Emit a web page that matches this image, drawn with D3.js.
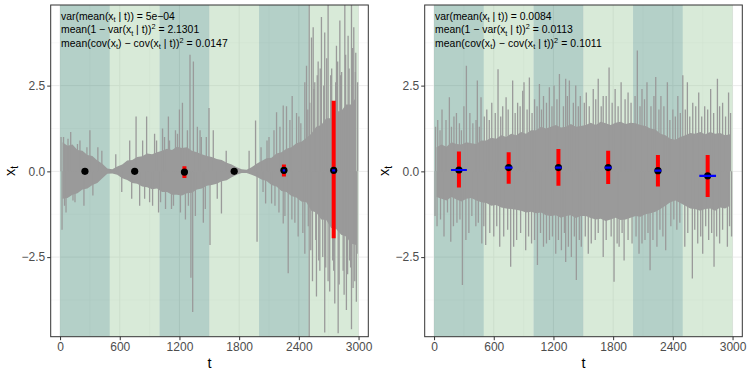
<!DOCTYPE html>
<html>
<head>
<meta charset="utf-8">
<script src="https://cdn.jsdelivr.net/npm/d3@7"></script>
<style>
  body { margin: 0; background: #fff; }
  svg { display: block; font-family: "Liberation Sans", Arial, Helvetica, sans-serif; }
</style>
</head>
<body>
<svg id="chart" width="747" height="374"></svg>
<script>
// segments (shaded bands) and their centres
var segStarts = [0, 500, 1000, 1500, 2000, 2500];
var segEnds = [500, 1000, 1500, 2000, 2500, 3000];
var segCenters = [250, 750, 1250, 1750, 2250, 2750];
var xTicks = [0, 600, 1200, 1800, 2400, 3000];
var yTicks = [-2.5, 0, 2.5];

// grey series, read as an envelope per 50-step bin
var binCenters = d3.range(25, 3000, 50);
var leftHi = [0.85,0.75,0.78,0.62,0.6,0.48,0.45,0.32,0.22,0.08,
  0.06,0.14,0.2,0.32,0.33,0.42,0.44,0.52,0.5,0.56,
  0.6,0.66,0.62,0.72,0.68,0.7,0.6,0.56,0.5,0.45,
  0.42,0.36,0.33,0.25,0.2,0.12,0.06,0.05,0.12,0.22,
  0.3,0.38,0.4,0.52,0.56,0.66,0.7,0.82,0.86,0.97,
  1.1,1.3,1.35,1.55,1.55,1.75,1.75,1.95,1.95,2.15];
var leftLo = [-0.8,-0.78,-0.68,-0.64,-0.53,-0.5,-0.4,-0.34,-0.2,-0.07,
  -0.06,-0.1,-0.2,-0.25,-0.34,-0.36,-0.44,-0.46,-0.52,-0.5,
  -0.6,-0.6,-0.68,-0.68,-0.7,-0.64,-0.62,-0.53,-0.5,-0.42,
  -0.4,-0.36,-0.29,-0.26,-0.17,-0.1,-0.05,-0.05,-0.1,-0.16,
  -0.24,-0.28,-0.4,-0.44,-0.57,-0.6,-0.72,-0.76,-0.88,-0.9,
  -1.15,-1.2,-1.4,-1.42,-1.65,-1.68,-1.85,-1.9,-2.1,-2.15];
var rightHi = [0.7,0.78,0.72,0.85,0.8,0.78,0.85,0.82,0.8,0.9,
  0.9,0.98,0.95,1.05,1.0,1.1,1.05,1.15,1.1,1.2,
  1.2,1.3,1.25,1.3,1.35,1.28,1.3,1.38,1.3,1.32,
  1.35,1.42,1.35,1.45,1.4,1.35,1.42,1.45,1.38,1.42,
  1.4,1.35,1.32,1.25,1.22,1.1,1.05,0.95,0.92,1.0,
  1.05,1.12,1.1,1.15,1.08,1.15,1.1,1.12,1.05,1.08];
var rightLo = [-0.75,-0.8,-0.85,-0.75,-0.82,-0.88,-0.8,-0.78,-0.85,-0.9,
  -0.92,-1.0,-0.98,-1.05,-1.08,-1.1,-1.12,-1.15,-1.2,-1.18,
  -1.22,-1.2,-1.28,-1.3,-1.28,-1.35,-1.3,-1.28,-1.36,-1.3,
  -1.3,-1.36,-1.4,-1.38,-1.45,-1.4,-1.35,-1.42,-1.4,-1.35,
  -1.3,-1.32,-1.25,-1.22,-1.18,-1.1,-1.0,-0.9,-0.85,-0.92,
  -1.0,-1.08,-1.1,-1.15,-1.1,-1.08,-1.15,-1.05,-1.08,-1.0];

// single excursions of the grey series [t, value]
var leftSpikes = [[10,1.0],[20,-1.7],[35,1.0],[45,-1.0],[60,-1.2],[80,0.95],[107,1.15],[130,-0.85],[150,-0.9],[175,0.8],[200,0.9],[240,-1.0],[270,0.7],[300,1.2],[330,-0.7],[380,0.7],[420,0.6],
  [560,0.5],[620,-0.6],[700,0.9],[720,-0.8],[764,1.6],[800,-1.0],[830,0.9],[850,-0.8],[870,1.6],[900,-0.9],[930,-1.0],[950,1.1],[970,0.9],[990,-1.2],
  [1010,-0.9],[1030,1.25],[1050,1.0],[1060,-1.1],[1089,1.6],[1100,0.9],[1120,-1.1],[1140,-1.0],[1160,1.2],[1180,1.1],[1200,1.8],[1210,-1.2],[1230,2.0],[1260,-1.4],[1280,1.2],[1290,-1.0],[1306,3.4],[1315,-3.1],[1333,-4.1],[1340,3.2],[1360,-1.3],[1380,1.3],[1407,1.2],[1420,1.0],[1440,-1.5],[1460,-1.1],[1470,1.0],[1497,1.85],[1507,-2.15],
  [1540,1.2],[1580,-0.8],[1622,-1.23],[1670,0.6],[1900,0.6],[1965,1.48],[1980,-2.05],
  [2020,0.7],[2040,-0.6],[2066,-0.94],[2080,0.9],[2100,1.0],[2126,-0.94],[2150,1.2],[2160,-1.0],[2176,1.72],[2200,-1.2],[2210,1.3],[2243,1.92],[2243,-1.52],[2260,-1.3],[2276,1.9],[2293,-2.97],[2310,1.5],[2330,-1.4],[2333,2.2],[2360,-1.5],[2377,1.7],[2393,-1.9],[2400,1.6],[2420,1.4],[2440,-1.8],[2460,2.6],[2460,-2.4],[2477,3.08],[2490,1.8],[2495,-1.6],
  [2504,5.2],[2504,-5.2],[2510,2.0],[2520,-2.3],[2527,3.9],[2537,-3.2],[2544,4.2],[2550,2.4],[2560,2.6],[2570,-2.0],[2577,-3.65],[2585,2.8],[2594,3.2],[2600,-2.6],[2611,-2.9],[2615,3.0],[2627,4.5],[2640,-2.5],[2650,2.5],[2660,4.05],[2660,-4.7],[2670,-2.8],[2680,3.3],[2694,5.2],[2694,-3.2],[2710,-3.5],[2720,2.8],[2730,3.0],[2740,-2.6],[2750,-2.9],[2761,-3.85],[2770,2.6],[2778,3.66],[2790,3.2],[2795,-4.72],[2805,-3.3],[2812,4.4],[2820,2.8],[2830,2.9],[2845,-2.9],[2855,-3.6],[2862,5.2],[2870,3.4],[2878,-4.04],[2890,-3.0],[2895,3.95],[2905,3.0],[2910,-2.6],[2920,-2.8],[2929,5.2],[2929,-4.6],[2940,3.6],[2945,-3.4],[2952,4.2],[2962,-3.2],[2968,2.9],[2972,3.46],[2978,-3.8],[2985,-2.4],[2990,2.6]];
var rightSpikes = [[15,1.3],[37,1.5],[60,1.2],[80,1.8],[120,1.5],[154,2.16],[175,1.3],[200,1.6],[225,1.7],[255,1.4],[275,1.2],[300,1.9],[325,3.08],[360,1.7],[390,1.4],[422,1.5],[435,2.65],[455,1.3],[472,2.16],[505,1.6],[530,1.8],[555,1.5],[580,2.0],[615,1.7],[643,2.98],[670,1.6],[690,1.9],[724,2.16],[745,1.8],[790,2.65],[815,1.7],[840,2.0],[865,1.9],[891,2.35],[904,2.6],[935,1.8],[958,2.74],[985,1.7],[1010,2.1],[1035,1.9],[1059,2.55],[1080,1.8],[1100,2.2],[1130,2.0],[1159,2.45],[1185,1.9],[1206,2.5],[1235,2.1],[1260,2.84],[1300,1.9],[1323,2.7],[1340,2.2],[1360,2.65],[1400,2.0],[1424,2.5],[1450,1.9],[1470,2.2],[1510,2.0],[1530,2.3],[1560,1.9],[1600,2.4],[1625,2.1],[1650,2.7],[1680,1.9],[1700,2.2],[1730,2.2],[1759,3.03],[1790,2.0],[1820,2.4],[1850,1.9],[1880,2.6],[1920,2.1],[1950,2.3],[1980,2.0],[2020,2.2],[2043,3.52],[2070,1.9],[2090,2.4],[2115,2.1],[2140,2.6],[2180,1.9],[2210,2.2],[2228,2.75],[2260,1.8],[2280,2.2],[2310,1.9],[2345,2.6],[2370,1.5],[2400,1.8],[2425,1.6],[2450,2.2],[2475,1.7],[2500,2.8],[2525,1.8],[2546,2.6],[2570,1.6],[2600,2.0],[2630,1.9],[2660,2.3],[2690,1.6],[2720,1.9],[2750,1.8],[2780,2.4],[2810,1.7],[2848,2.7],[2870,1.9],[2900,2.0],[2930,1.6],[2960,2.3],[2980,1.7],
  [10,-1.3],[30,-1.6],[65,-1.4],[100,-1.9],[135,-1.2],[168,-2.05],[195,-1.6],[230,-1.5],[260,-1.4],[285,-3.31],[320,-2.0],[350,-1.8],[380,-1.3],[420,-1.6],[445,-1.5],[480,-2.1],[500,-1.6],[519,-2.15],[560,-1.8],[600,-1.9],[630,-1.6],[660,-2.2],[700,-1.9],[740,-1.7],[770,-2.78],[800,-2.2],[830,-2.0],[870,-1.8],[921,-2.3],[950,-1.9],[980,-2.1],[1010,-2.0],[1039,-2.73],[1070,-1.8],[1100,-2.2],[1130,-2.1],[1160,-2.0],[1190,-1.9],[1223,-2.4],[1250,-2.0],[1280,-2.3],[1310,-1.8],[1323,-2.64],[1350,-2.2],[1380,-2.5],[1410,-1.9],[1430,-3.17],[1460,-2.0],[1480,-2.2],[1520,-1.9],[1550,-2.4],[1580,-2.1],[1620,-2.0],[1650,-1.8],[1700,-2.5],[1730,-2.0],[1780,-1.9],[1809,-3.22],[1840,-2.1],[1860,-2.2],[1890,-1.8],[1910,-2.6],[1950,-2.0],[1990,-2.1],[2030,-1.9],[2060,-2.4],[2090,-2.1],[2120,-2.0],[2150,-1.8],[2171,-2.88],[2200,-2.0],[2240,-2.2],[2270,-1.7],[2300,-1.9],[2328,-2.3],[2380,-1.6],[2410,-1.4],[2440,-1.7],[2470,-1.5],[2520,-2.2],[2550,-1.8],[2596,-3.12],[2620,-1.7],[2650,-2.1],[2680,-1.9],[2700,-2.4],[2730,-1.6],[2760,-2.0],[2790,-1.8],[2814,-2.78],[2840,-1.9],[2870,-2.1],[2900,-1.7],[2948,-2.2],[2970,-1.6],[2990,-1.9]];

// per-segment summaries
var leftMean = [0, 0, -0.02, 0, 0.03, 0.03];
var leftBarLo = [-0.05, -0.05, -0.19, -0.05, -0.15, -1.95];
var leftBarHi = [0.05, 0.05, 0.15, 0.05, 0.2, 2.06];
var leftHalfWidth = [0, 0, 0, 0, 12, 15];
var rightMean = [0.04, 0.11, 0.11, 0.11, 0.02, -0.13];
var rightBarLo = [-0.47, -0.36, -0.42, -0.37, -0.44, -0.75];
var rightBarHi = [0.58, 0.56, 0.65, 0.6, 0.48, 0.48];
var rightHalfWidth = [80, 39, 32, 34, 34, 84];

var leftStats = ['5e\u221204', '2.1301', '0.0147'];
var rightStats = ['0.0084', '0.0113', '0.1011'];

var svg = d3.select('#chart');
var bandColors = ['rgb(68,138,118)', 'rgb(158,202,158)'];
var grey = '#9a9a9a';
var lineWidths = [101, 138, 167];

function drawPanel(ox, id, hi, lo, spikes, mean, barLo, barHi, halfW, stats){
  var left = 50.7 + ox, right = 368.3 + ox, top = 5, bottom = 336.7;
  var x = d3.scaleLinear().domain([-94, 3098]).range([left, right]);
  var y = d3.scaleLinear().domain([-4.82, 4.85]).range([bottom, top]);

  svg.append('clipPath').attr('id', id)
    .append('rect').attr('x', left).attr('y', top)
    .attr('width', right - left).attr('height', bottom - top);

  var g = svg.append('g').attr('clip-path', 'url(#' + id + ')');

  // grid
  var minorX = d3.range(300, 3000, 600);
  var minorY = [-3.75, -1.25, 1.25, 3.75];
  g.selectAll('line.mx').data(minorX).enter().append('line')
    .attr('x1', x).attr('x2', x).attr('y1', top).attr('y2', bottom)
    .attr('stroke', '#f3f3f3').attr('stroke-width', 0.5);
  g.selectAll('line.my').data(minorY).enter().append('line')
    .attr('y1', y).attr('y2', y).attr('x1', left).attr('x2', right)
    .attr('stroke', '#f3f3f3').attr('stroke-width', 0.5);
  g.selectAll('line.gx').data(xTicks).enter().append('line')
    .attr('x1', x).attr('x2', x).attr('y1', top).attr('y2', bottom)
    .attr('stroke', '#ebebeb').attr('stroke-width', 1);
  g.selectAll('line.gy').data(yTicks).enter().append('line')
    .attr('y1', y).attr('y2', y).attr('x1', left).attr('x2', right)
    .attr('stroke', '#ebebeb').attr('stroke-width', 1);

  // bands
  g.selectAll('rect.band').data(segStarts).enter().append('rect')
    .attr('x', function(d){ return x(d); })
    .attr('width', function(d, i){ return x(segEnds[i]) - x(d); })
    .attr('y', top).attr('height', bottom - top)
    .attr('fill', function(d, i){ return bandColors[i % 2]; })
    .attr('fill-opacity', 0.4);

  // grey series
  var area = d3.area()
    .x(function(d, i){ return x(binCenters[i]); })
    .y0(function(d, i){ return y(lo[i]); })
    .y1(function(d, i){ return y(hi[i]); });
  g.append('path').datum(hi).attr('d', area).attr('fill', grey);

  g.selectAll('line.spike').data(spikes).enter().append('line')
    .attr('x1', function(d){ return x(d[0]); })
    .attr('x2', function(d){ return x(d[0]); })
    .attr('y1', y(0))
    .attr('y2', function(d){ return y(d[1]); })
    .attr('stroke', grey).attr('stroke-width', 1.3);

  // summaries
  g.selectAll('line.bar').data(segCenters).enter().append('line')
    .attr('x1', x).attr('x2', x)
    .attr('y1', function(d, i){ return y(barLo[i]); })
    .attr('y2', function(d, i){ return y(barHi[i]); })
    .attr('stroke', '#ff0000').attr('stroke-width', 4);
  g.selectAll('circle').data(segCenters).enter().append('circle')
    .attr('cx', x).attr('cy', function(d, i){ return y(mean[i]); })
    .attr('r', 3.6).attr('fill', '#000');
  g.selectAll('line.hw').data(segCenters).enter().append('line')
    .attr('x1', function(d, i){ return x(d - halfW[i]); })
    .attr('x2', function(d, i){ return x(d + halfW[i]); })
    .attr('y1', function(d, i){ return y(mean[i]); })
    .attr('y2', function(d, i){ return y(mean[i]); })
    .attr('stroke', '#0000ff').attr('stroke-width', 2.2);

  // border
  svg.append('rect').attr('x', left).attr('y', top)
    .attr('width', right - left).attr('height', bottom - top)
    .attr('fill', 'none').attr('stroke', '#333').attr('stroke-width', 1);

  // axes
  var ax = svg.append('g').attr('transform', 'translate(0,' + bottom + ')')
    .call(d3.axisBottom(x).tickValues(xTicks).tickSize(3.5).tickPadding(2).tickFormat(d3.format('d')));
  var ay = svg.append('g').attr('transform', 'translate(' + left + ',0)')
    .call(d3.axisLeft(y).tickValues(yTicks).tickSize(3.5).tickPadding(2).tickFormat(d3.format('.1f')));
  [ax, ay].forEach(function(a){
    a.select('.domain').remove();
    a.selectAll('line').attr('stroke', '#333');
    a.selectAll('text').attr('fill', '#4d4d4d').style('font-size', '12px')
      .style('font-family', '"Liberation Sans", Arial, sans-serif');
  });

  svg.append('text').attr('x', (left + right) / 2).attr('y', 368)
    .attr('text-anchor', 'middle').style('font-size', '14.5px').text('t');
  var yt = svg.append('text').attr('transform', 'translate(' + (ox + 15) + ',171) rotate(-90)')
    .attr('text-anchor', 'middle').style('font-size', '14.5px');
  yt.append('tspan').text('x');
  yt.append('tspan').attr('dy', 3).style('font-size', '10px').text('t');

  // annotation
  var lines = [
    [['var(mean(x'], ['t', 'sub'], [' | t)) = ' + stats[0]]],
    [['mean(1 \u2212 var(x'], ['t', 'sub'], [' | t))'], ['2', 'sup'], [' = ' + stats[1]]],
    [['mean(cov(x'], ['t', 'sub'], [') \u2212 cov(x'], ['t', 'sub'], [' | t))'], ['2', 'sup'], [' = ' + stats[2]]]
  ];
  var baselines = [19.5, 33, 46.5];
  lines.forEach(function(parts, k){
    var t = svg.append('text').attr('x', ox + 61).attr('y', baselines[k])
      .style('font-size', '10.4px').attr('fill', '#000');
    var shift = 0, nChars = 0;
    parts.forEach(function(p){
      var target = p[1] === 'sub' ? 2.5 : p[1] === 'sup' ? -4 : 0;
      var s = t.append('tspan').attr('dy', target - shift).text(p[0]);
      if (p[1]) s.style('font-size', '7.3px');
      shift = target;
      nChars += p[0].length;
    });
    var w = t.node().getBBox().width;
    var extra = (lineWidths[k] - w) / nChars;
    if (extra > 0) t.style('letter-spacing', extra + 'px');
  });
}

drawPanel(0, 'clipL', leftHi, leftLo, leftSpikes, leftMean, leftBarLo, leftBarHi, leftHalfWidth, leftStats);
drawPanel(374, 'clipR', rightHi, rightLo, rightSpikes, rightMean, rightBarLo, rightBarHi, rightHalfWidth, rightStats);
</script>
</body>
</html>
